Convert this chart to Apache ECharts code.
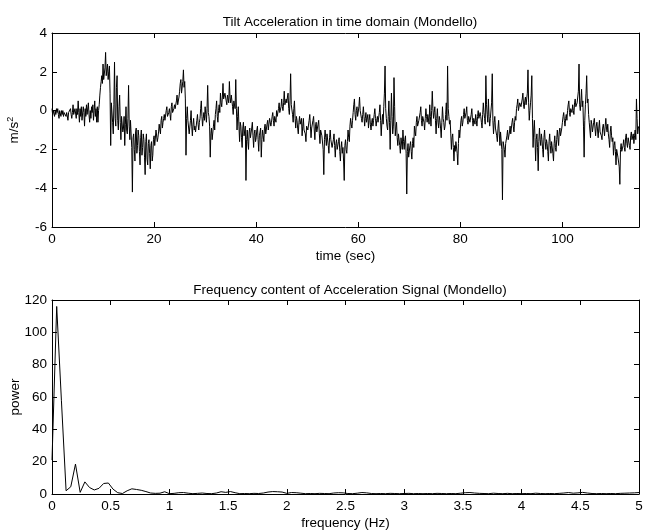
<!DOCTYPE html>
<html>
<head>
<meta charset="utf-8">
<script src="https://cdn.jsdelivr.net/npm/echarts@6/dist/echarts.min.js"></script>
<style>
html,body{margin:0;padding:0;background:#fff;}
#c{width:645px;height:531px;}
</style>
</head>
<body>
<div id="c"></div>
<script>
// ---- Data: tilt acceleration (m/s^2), sampled every DT seconds (8 per row = 1 s) ----
const DT = 0.125;
const accel = [
  0.1,-0.2,0.0,-0.1,-0.3,0.0,-0.2,0.1,      // 0
  -0.1,0.1,-0.2,-0.4,0.0,-0.1,-0.3,0.0,     // 1
  -0.2,0.0,-0.3,-0.1,0.0,-0.2,-0.3,-0.1,    // 2
  0.0,-0.5,-0.1,-0.2,-0.1,0.1,-0.2,-0.4,    // 3
  -0.1,0.3,-0.2,-0.3,0.1,0.0,-0.4,0.1,      // 4
  -0.2,0.5,-0.1,-0.6,0.1,-0.3,0.2,-0.5,     // 5
  -0.4,0.2,-0.1,-0.8,0.1,-0.3,0.3,-0.2,     // 6
  -0.3,0.4,-0.2,-0.6,0.0,-0.4,0.2,-0.1,     // 7
  0.3,-0.5,0.0,0.5,-0.3,0.1,-0.6,0.2,       // 8
  -0.6,0.0,0.3,0.8,1.2,1.5,1.8,1.4,         // 9
  2.4,1.6,1.7,2.2,3.0,1.8,1.9,2.4,          // 10
  1.6,2.0,2.3,0.9,-1.8,0.4,0.5,-0.6,        // 11
  -1.2,0.3,2.5,-0.4,-0.8,1.2,1.8,-0.5,      // 12
  -1.0,0.2,0.8,-0.6,-1.5,-0.3,-0.2,-1.1,    // 13
  -0.9,-0.3,-1.8,-0.7,0.2,-1.0,-1.2,-0.4,   // 14
  1.3,-0.8,-1.5,-0.5,-0.6,-1.9,-4.2,-1.4,   // 15
  -1.2,-2.0,-2.6,-1.1,-0.9,-2.2,-1.8,-1.0,  // 16
  -1.3,-2.1,-2.8,-1.4,-1.0,-2.3,-1.9,-1.2,  // 17
  -1.5,-2.4,-3.3,-1.6,-1.2,-2.5,-2.8,-1.7,  // 18
  -1.5,-2.2,-3.0,-1.8,-1.6,-2.6,-2.3,-1.5,  // 19
  -1.3,-1.8,-1.9,-1.0,-0.9,-1.6,-1.4,-1.1,  // 20
  -0.7,-1.0,-1.2,-0.5,-0.3,-0.9,-0.6,-0.4,  // 21
  -0.2,-0.5,-0.6,0.0,0.2,-0.3,-0.4,-0.1,    // 22
  0.1,-0.2,-0.5,0.2,0.4,-0.1,-0.2,0.1,      // 23
  0.3,0.1,0.0,0.5,0.8,0.3,0.4,0.7,          // 24
  1.0,1.4,1.6,0.9,0.8,1.5,2.1,1.2,          // 25
  1.5,0.6,-2.3,-0.4,0.2,-0.5,-0.6,-1.2,     // 26
  -1.1,-0.5,0.0,-0.8,-1.3,-0.7,-0.4,-1.0,   // 27
  -0.8,-1.1,-1.2,-0.5,-0.2,-0.7,-1.0,-0.6,  // 28
  -0.4,0.1,0.5,-0.3,-0.8,-0.4,-0.1,-0.5,    // 29
  0.2,-0.2,-0.6,0.1,1.3,-0.1,-0.3,-0.8,     // 30
  -2.4,-1.2,-0.9,-1.5,-1.4,-0.8,-0.5,-1.0,  // 31
  -0.2,0.1,0.5,-0.3,-0.6,0.0,0.3,-0.1,      // 32
  0.9,0.4,0.2,0.7,1.4,0.6,0.5,0.9,          // 33
  1.0,0.5,0.3,0.8,0.9,0.4,1.5,0.7,          // 34
  0.4,0.8,0.9,0.2,-0.2,0.5,0.6,0.1,         // 35
  1.6,0.1,-1.0,-0.3,0.2,-0.8,-1.6,-0.6,     // 36
  -0.8,-1.4,-1.9,-0.9,-0.6,-1.3,-1.2,-0.8,  // 37
  -3.6,-1.5,-1.0,-1.6,-2.0,-1.1,-0.9,-1.4,  // 38
  -1.5,-0.9,-0.6,-1.3,-1.9,-1.2,-1.0,-1.6,  // 39
  -1.4,-1.0,-0.8,-1.5,-2.1,-1.3,-1.2,-0.9,  // 40
  -2.4,-1.5,-1.0,-1.3,-1.6,-0.9,-0.7,-1.2,  // 41
  -1.1,-0.7,-0.5,-1.0,-0.9,-0.4,-0.3,-0.8,  // 42
  -0.6,-0.3,-0.1,-0.5,-0.8,-0.3,-0.2,-0.6,  // 43
  0.0,-0.3,-0.4,0.1,0.4,-0.1,-0.1,0.2,      // 44
  0.6,0.2,0.0,0.4,1.0,0.3,0.2,0.6,          // 45
  0.4,0.7,0.9,0.1,-0.2,0.5,1.9,0.3,         // 46
  0.3,-0.2,-0.6,0.1,0.5,-0.4,-0.9,-0.3,     // 47
  -0.5,-0.9,-1.2,-0.6,-0.3,-0.7,-0.8,-0.4,  // 48
  -1.3,-0.8,-0.4,-1.0,-0.9,-1.2,-1.6,-0.8,  // 49
  -0.7,-1.0,-1.1,-0.5,-0.2,-0.8,-1.4,-0.9,  // 50
  -0.9,-0.5,-0.3,-1.0,-1.5,-0.8,-0.6,-1.1,  // 51
  -1.1,-0.7,-0.5,-1.2,-1.7,-1.0,-0.9,-1.3,  // 52
  -1.4,-2.0,-3.3,-1.5,-1.0,-1.4,-1.8,-1.2,  // 53
  -1.3,-1.8,-2.2,-1.4,-1.0,-1.5,-1.6,-1.9,  // 54
  -1.9,-1.5,-1.2,-1.8,-2.4,-1.7,-1.5,-2.0,  // 55
  -2.0,-1.6,-1.4,-2.1,-2.6,-1.9,-1.6,-2.2,  // 56
  -1.9,-2.6,-3.6,-1.8,-1.5,-2.0,-2.2,-1.6,  // 57
  -1.0,-1.4,-1.6,-0.8,-0.4,-0.7,-0.9,-0.5,  // 58
  -0.1,0.3,0.6,-0.2,-0.5,0.0,0.2,-0.3,      // 59
  -0.3,0.2,0.7,0.0,-0.1,-0.4,-0.6,-0.2,     // 60
  0.2,-0.3,-0.8,-0.4,-0.1,-0.6,-0.5,-0.2,   // 61
  -0.9,-0.5,-0.2,-0.7,-1.0,-0.6,-0.4,-0.8,  // 62
  -0.5,-0.2,0.1,-0.4,-0.8,-0.5,-0.3,-0.6,   // 63
  -0.6,-0.1,0.3,-0.5,-1.3,-0.6,-0.2,-0.7,   // 64
  0.2,0.9,2.3,0.1,-0.4,-0.8,-1.0,-0.3,      // 65
  0.5,-0.6,-2.0,-0.5,0.9,-0.3,-1.2,-0.8,    // 66
  1.7,0.2,-1.3,-0.9,-0.6,-1.4,-1.8,-1.2,    // 67
  -1.1,-1.8,-2.2,-1.4,-1.5,-2.0,-1.0,-1.6,  // 68
  -2.0,-1.5,-1.3,-2.2,-4.3,-2.1,-1.7,-2.4,  // 69
  -2.3,-1.8,-1.6,-2.1,-2.5,-1.7,-1.4,-1.9,  // 70
  -0.8,-1.1,-1.3,-0.6,-0.3,-0.8,-0.9,-0.5,  // 71
  -0.4,-0.1,0.2,-0.5,-0.8,-0.3,-0.2,-0.6,   // 72
  -1.0,-0.4,0.1,-0.3,-0.6,-0.2,-0.3,-0.7,   // 73
  0.3,-0.3,-0.8,0.0,1.0,0.1,-0.4,-0.1,      // 74
  0.2,-0.5,-1.2,-0.4,0.1,-0.6,-0.9,-0.3,    // 75
  -0.5,-0.9,-1.4,-0.6,0.2,-0.4,-0.6,-1.0,   // 76
  -0.8,-0.2,0.4,-0.5,2.3,0.1,-0.3,-0.7,     // 77
  -0.5,-1.2,-2.0,-1.4,-1.2,-1.9,-2.6,-1.8,  // 78
  -2.1,-1.6,-1.5,-2.2,-2.8,-1.7,-1.0,-1.4,  // 79
  -0.9,-0.5,-0.3,-0.8,-0.6,-0.2,0.1,-0.4,   // 80
  -0.4,-0.1,0.2,-0.5,-0.7,-0.3,-0.2,-0.6,   // 81
  -0.6,-0.2,0.1,-0.5,-0.8,-0.4,-0.3,-0.7,   // 82
  -0.2,-0.5,-0.8,-0.3,0.0,-0.4,-0.5,-0.1,   // 83
  -0.3,-0.6,-0.9,-0.2,0.4,-0.1,-0.4,-0.7,   // 84
  1.8,0.3,-0.2,-0.6,0.6,-0.3,-0.8,-0.4,     // 85
  -0.4,0.4,1.9,-0.5,-1.2,-0.6,-0.3,-0.9,    // 86
  -1.0,-1.3,-1.6,-0.9,-0.5,-1.2,-1.8,-1.1,  // 87
  -1.2,-2.0,-4.6,-1.6,-1.5,-2.0,-2.4,-1.7,  // 88
  -1.8,-1.3,-1.0,-1.5,-1.6,-1.1,-0.8,-1.2,  // 89
  -0.9,-0.6,-0.4,-0.8,-1.1,-0.6,-0.3,-0.5,  // 90
  0.1,0.3,0.6,0.0,0.0,0.4,0.5,0.2,          // 91
  0.2,0.6,0.9,0.3,0.1,0.5,0.7,0.3,          // 92
  0.3,0.9,2.1,0.4,-0.5,0.0,0.4,0.8,         // 93
  1.8,-0.4,-1.9,-1.0,-0.5,-1.4,-2.6,-1.5,   // 94
  -1.2,-1.9,-3.1,-1.6,-0.9,-1.5,-1.8,-1.2,  // 95
  -1.5,-2.0,-2.4,-1.4,-1.0,-1.6,-2.0,-1.5,  // 96
  -1.7,-2.1,-2.6,-1.6,-1.2,-1.8,-2.2,-1.6,  // 97
  -1.6,-2.2,-2.6,-1.7,-1.3,-1.9,-2.1,-1.5,  // 98
  -1.0,-1.4,-1.8,-1.1,-0.9,-1.3,-1.4,-0.9,  // 99
  -0.6,-0.3,-0.1,-0.5,-0.8,-0.4,-0.2,-0.5,  // 100
  0.0,0.3,0.5,-0.1,-0.3,0.1,0.2,-0.1,       // 101
  0.3,0.0,-0.2,0.4,0.6,0.2,0.1,0.4,         // 102
  0.4,1.0,2.4,0.3,0.0,0.5,1.1,0.2,          // 103
  0.5,-0.8,-2.4,-0.5,0.3,0.9,1.8,0.4,       // 104
  0.6,-0.2,-0.6,-1.0,-1.4,-0.5,-0.7,-1.1,   // 105
  -1.0,-0.6,-0.4,-0.9,-1.3,-0.8,-0.6,-1.0,  // 106
  -1.4,-0.9,-0.5,-1.1,-1.0,-1.3,-1.5,-0.9,  // 107
  -0.7,-1.0,-1.3,-0.8,-0.4,-0.9,-1.1,-0.7,  // 108
  -1.2,-1.5,-1.9,-1.1,-0.8,-1.3,-1.6,-1.4,  // 109
  -2.3,-1.8,-1.6,-2.1,-2.8,-2.0,-1.9,-2.4,  // 110
  -2.4,-2.9,-3.8,-2.0,-1.7,-2.1,-2.2,-1.8,  // 111
  -1.5,-1.9,-2.1,-1.4,-1.2,-1.7,-1.9,-1.4,  // 112
  -1.4,-1.8,-2.0,-1.3,-1.1,-1.5,-1.6,-1.2,  // 113
  -1.7,-1.3,-1.0,-1.5,0.6,-0.4,-1.2,-0.9,   // 114
  -0.8                                      // 115
];

// ---- Data: power spectrum, frequency step DF Hz ----
const DF = 0.04;
const power = [
  21,116,58,2,4.5,18.5,1,7.5,4,2.5,
  3.5,6.5,6.8,3,0.8,0.3,2,3.2,2.8,2.3,
  1.5,0.6,0.4,0.5,1.4,0.2,0.4,0.8,0.9,0.5,
  0.2,0.4,0.6,0.3,0.2,0.6,1.4,1.0,1.5,0.8,
  0.2,0.3,0.2,0.4,0.3,0.6,1.2,1.5,1.4,1.2,
  0.4,0.9,0.8,0.5,0.2,0.3,0.2,0.4,0.3,0.2,
  0.6,0.8,0.7,0.3,0.2,0.5,0.9,0.7,0.3,0.2,
  0.3,0.2,0.4,0.3,0.2,0.3,0.4,0.2,0.3,0.2,
  0.3,0.2,0.4,0.3,0.2,0.3,0.2,0.5,0.8,0.9,
  0.6,0.4,0.3,0.2,0.5,0.3,0.2,0.4,0.2,0.3,
  0.2,0.3,0.2,0.5,0.3,0.2,0.3,0.2,0.4,0.6,
  0.9,0.5,0.7,1.0,0.6,0.3,0.2,0.3,0.2,0.3,
  0.2,0.4,0.5,0.6,0.7,0.9
];

// ---- Text / ticks ----
const title1 = 'Tilt Acceleration in time domain (Mondello)';
const title2 = 'Frequency content of Acceleration Signal (Mondello)';
const xName1 = 'time (sec)';
const xName2 = 'frequency (Hz)';
const yName2 = 'power';
const timeAxis = {min: 0, max: 115, interval: 20};
const accAxis = {min: -6, max: 4, interval: 2};
const freqAxis = {min: 0, max: 5, interval: 0.5};
const powAxis = {min: 0, max: 120, interval: 20};

const accelData = accel.map((v, i) => [i * DT, v]);
const powerData = power.map((v, i) => [+(i * DF).toFixed(2), v]);

const FONT = "'Liberation Sans', Arial, sans-serif";
const FS = 13.5;
const axLine = {show: true, onZero: false, lineStyle: {color: '#000', width: 1}};
const tick = {show: true, inside: true, length: 5, lineStyle: {color: '#000'}};
const lbl = {color: '#000', fontSize: FS, fontFamily: FONT};

function xAx(grid, sc, name, top) {
  return Object.assign({
    type: 'value', gridIndex: grid, position: top ? 'top' : 'bottom',
    axisLine: axLine, axisTick: tick, splitLine: {show: false},
    axisLabel: top ? {show: false} : Object.assign({margin: 5, showMaxLabel: grid === 1}, lbl),
    name: top ? '' : name, nameLocation: 'middle', nameGap: 22, nameMoveOverlap: false,
    nameTextStyle: {color: '#000', fontSize: FS, fontFamily: FONT}
  }, sc);
}
function yAx(grid, sc, name, right, rich) {
  return Object.assign({
    type: 'value', gridIndex: grid, position: right ? 'right' : 'left',
    axisLine: axLine, axisTick: tick, splitLine: {show: false},
    axisLabel: right ? {show: false} : Object.assign({margin: 5}, lbl),
    name: right ? '' : name, nameLocation: 'middle', nameGap: 30, nameRotate: 90,
    nameMoveOverlap: false,
    nameTextStyle: {color: '#000', fontSize: FS, fontFamily: FONT, rich: rich || {}}
  }, sc);
}

const chart = echarts.init(document.getElementById('c'), null, {renderer: 'canvas'});
chart.setOption({
  animation: false,
  backgroundColor: '#fff',
  title: [
    {text: title1, left: 345, top: 10, textAlign: 'center',
     textStyle: {color: '#000', fontSize: FS, fontWeight: 'normal', fontFamily: FONT}},
    {text: title2, left: 345, top: 278, textAlign: 'center',
     textStyle: {color: '#000', fontSize: FS, fontWeight: 'normal', fontFamily: FONT}}
  ],
  grid: [
    {left: 52, top: 33, width: 587, height: 194, show: false, containLabel: false, outerBoundsMode: 'none'},
    {left: 52, top: 300, width: 587, height: 194, show: false, containLabel: false, outerBoundsMode: 'none'}
  ],
  xAxis: [
    xAx(0, timeAxis, xName1, false),
    xAx(0, timeAxis, '', true),
    xAx(1, freqAxis, xName2, false),
    xAx(1, freqAxis, '', true)
  ],
  yAxis: [
    yAx(0, accAxis, 'm/s{sup|2}', false, {sup: {fontSize: 9, verticalAlign: 'bottom', padding: [0, 0, 7, 0], color: '#000', fontFamily: FONT}}),
    yAx(0, accAxis, '', true),
    yAx(1, powAxis, yName2, false),
    yAx(1, powAxis, '', true)
  ],
  series: [
    {type: 'line', xAxisIndex: 0, yAxisIndex: 0, data: accelData, showSymbol: false,
     lineStyle: {color: '#000', width: 1}, silent: true},
    {type: 'line', xAxisIndex: 2, yAxisIndex: 2, data: powerData, showSymbol: false,
     lineStyle: {color: '#000', width: 1}, silent: true}
  ]
});
</script>
</body>
</html>
